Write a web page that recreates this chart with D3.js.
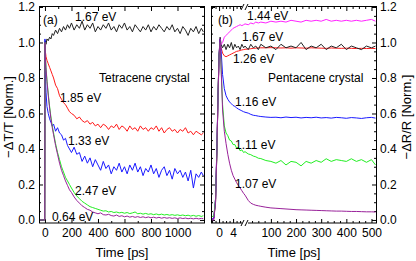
<!DOCTYPE HTML>
<html>
<head>
    <meta charset="utf-8">
    <title>Tetracene / Pentacene transients</title>
    <script src="https://d3js.org/d3.v7.min.js"></script>
    <style>
        body { margin: 0; background: #fff; }
        svg { display: block; font-family: "Liberation Sans", Arial, sans-serif; }
        .line { fill: none; stroke-width: 1; }
    </style>
</head>
<body>
<script type="text/javascript">
    // (a) tetracene, -dT/T, time in ps
    const tetraTime = [-45, -2, 0, 3, 8, 15, 25, 35, 45, 55, 65, 80, 95, 110, 125, 140, 155, 170, 185, 200,
        220, 240, 260, 280, 300, 320, 340, 360, 380, 400, 420, 440, 460, 480, 500, 520, 540, 560, 580, 600,
        620, 640, 660, 680, 700, 720, 740, 760, 780, 800, 820, 840, 860, 880, 900, 920, 940, 960, 980, 1000,
        1020, 1040, 1060, 1080, 1100, 1120, 1140, 1160, 1180, 1195];
    const tetra167 = [0, 0, 1.00, 1.01, 0.99, 1.02, 1.01, 1.03, 1.02, 1.05, 1.04, 1.07, 1.05, 1.08, 1.06, 1.09, 1.07, 1.10, 1.08, 1.11,
        1.07, 1.10, 1.08, 1.12, 1.07, 1.10, 1.08, 1.11, 1.06, 1.09, 1.07, 1.10, 1.08, 1.11, 1.07, 1.09, 1.06, 1.10, 1.08, 1.11,
        1.07, 1.09, 1.06, 1.10, 1.08, 1.06, 1.09, 1.07, 1.10, 1.06, 1.09, 1.07, 1.10, 1.08, 1.06, 1.09, 1.07, 1.10, 1.06, 1.08,
        1.05, 1.09, 1.07, 1.04, 1.08, 1.06, 1.09, 1.05, 1.08, 1.06];
    const tetra185 = [0, 0, 1.00, 0.95, 0.92, 0.90, 0.88, 0.86, 0.84, 0.82, 0.80, 0.76, 0.74, 0.70, 0.68, 0.66, 0.65, 0.63, 0.61, 0.60,
        0.59, 0.57, 0.58, 0.56, 0.55, 0.56, 0.54, 0.55, 0.53, 0.54, 0.52, 0.54, 0.53, 0.51, 0.53, 0.52, 0.54, 0.51, 0.53, 0.52,
        0.50, 0.53, 0.51, 0.52, 0.50, 0.53, 0.51, 0.52, 0.50, 0.52, 0.51, 0.53, 0.50, 0.52, 0.49, 0.51, 0.52, 0.50, 0.51, 0.49,
        0.51, 0.50, 0.52, 0.49, 0.50, 0.48, 0.50, 0.49, 0.48, 0.49];
    const tetra133 = [0, 0, 1.02, 0.82, 0.72, 0.64, 0.60, 0.57, 0.55, 0.53, 0.54, 0.50, 0.52, 0.49, 0.48, 0.45, 0.46, 0.42, 0.40, 0.38,
        0.41, 0.37, 0.38, 0.33, 0.36, 0.32, 0.35, 0.30, 0.34, 0.31, 0.28, 0.33, 0.29, 0.31, 0.26, 0.30, 0.28, 0.32, 0.27, 0.30,
        0.26, 0.31, 0.28, 0.32, 0.27, 0.30, 0.25, 0.29, 0.27, 0.31, 0.26, 0.29, 0.24, 0.28, 0.30, 0.25, 0.28, 0.23, 0.29, 0.26,
        0.28, 0.24, 0.27, 0.22, 0.28, 0.18, 0.26, 0.24, 0.27, 0.25];
    const tetra247 = [0, 0, 1.00, 0.93, 0.86, 0.79, 0.71, 0.64, 0.58, 0.53, 0.49, 0.43, 0.38, 0.34, 0.30, 0.27, 0.24, 0.22, 0.20, 0.18,
        0.155, 0.135, 0.12, 0.105, 0.095, 0.085, 0.075, 0.07, 0.065, 0.06, 0.055, 0.05, 0.052, 0.045, 0.048, 0.042, 0.045, 0.04, 0.043, 0.038,
        0.042, 0.036, 0.04, 0.045, 0.035, 0.038, 0.033, 0.037, 0.032, 0.035, 0.03, 0.034, 0.029, 0.033, 0.028, 0.031, 0.027, 0.03, 0.026, 0.029,
        0.025, 0.028, 0.024, 0.027, 0.022, 0.026, 0.021, 0.025, 0.02, 0.024];
    const tetra064 = [0, 0, 1.00, 0.92, 0.85, 0.78, 0.70, 0.63, 0.57, 0.52, 0.48, 0.42, 0.37, 0.32, 0.28, 0.25, 0.22, 0.195, 0.17, 0.155,
        0.13, 0.11, 0.095, 0.08, 0.07, 0.06, 0.055, 0.045, 0.04, 0.035, 0.04, 0.03, 0.028, 0.032, 0.025, 0.022, 0.028, 0.02, 0.024, 0.018,
        0.022, 0.016, 0.02, 0.015, 0.019, 0.014, 0.018, 0.013, 0.017, 0.012, 0.016, 0.011, 0.015, 0.01, 0.014, 0.01, 0.013, 0.009, 0.012, 0.008,
        0.012, 0.008, 0.011, 0.007, 0.01, 0.006, 0.01, 0.006, 0.009, 0.007];

    // (b) pentacene, -dR/R, time in ps (axis broken after 7.4 ps)
    const pentaTime = [-2.3, -1.5, -1.0, -0.6, -0.3, 0, 0.3, 0.6, 1.0, 1.5, 2.0, 2.5, 3.0, 3.5, 4.0, 4.5, 5.0, 5.5, 6.0, 6.5, 7.0, 7.4,
        10, 20, 30, 40, 50, 60, 80, 100, 120, 140, 160, 180, 200, 220, 240, 260, 280, 300, 320, 340, 360, 380, 400, 420, 440, 460, 480, 500, 516];
    const penta144 = [0, 0.01, 0.12, 0.42, 0.68, 0.90, 0.98, 0.99, 1.00, 1.03, 1.04, 1.05, 1.06, 1.07, 1.08, 1.085, 1.09, 1.095, 1.10, 1.095, 1.10, 1.105,
        1.10, 1.11, 1.105, 1.115, 1.11, 1.115, 1.11, 1.12, 1.115, 1.12, 1.115, 1.125, 1.12, 1.115, 1.125, 1.12, 1.125, 1.12, 1.13, 1.12, 1.125, 1.12, 1.125, 1.12, 1.125, 1.12, 1.125, 1.13, 1.12];
    const penta167 = [0, 0.01, 0.10, 0.40, 0.70, 0.93, 1.03, 0.99, 0.97, 0.99, 0.96, 0.99, 0.97, 1.00, 0.96, 0.99, 0.97, 0.98, 0.96, 0.99, 0.97, 0.98,
        0.96, 0.99, 0.97, 0.98, 0.96, 0.99, 0.97, 0.98, 0.96, 0.99, 0.97, 0.98, 0.97, 1.00, 0.96, 0.98, 0.97, 0.99, 0.96, 0.98, 0.97, 0.99, 0.96, 0.98, 0.97, 0.96, 0.98, 0.97, 0.98];
    const penta126 = [0, 0.01, 0.11, 0.41, 0.69, 0.92, 1.02, 0.97, 0.94, 0.925, 0.92, 0.925, 0.93, 0.935, 0.94, 0.945, 0.95, 0.952, 0.955, 0.958, 0.96, 0.962,
        0.963, 0.965, 0.967, 0.968, 0.97, 0.97, 0.97, 0.971, 0.97, 0.969, 0.97, 0.968, 0.97, 0.969, 0.968, 0.97, 0.969, 0.968, 0.967, 0.969, 0.968, 0.967, 0.968, 0.967, 0.966, 0.967, 0.966, 0.967, 0.966];
    const penta116 = [0, 0.01, 0.12, 0.43, 0.70, 0.93, 1.02, 0.95, 0.82, 0.74, 0.70, 0.68, 0.665, 0.655, 0.645, 0.64, 0.632, 0.625, 0.62, 0.615, 0.61, 0.607,
        0.602, 0.595, 0.59, 0.588, 0.585, 0.583, 0.58, 0.578, 0.579, 0.576, 0.58, 0.577, 0.579, 0.575, 0.578, 0.576, 0.579, 0.575, 0.577, 0.574, 0.578, 0.576, 0.573, 0.577, 0.575, 0.572, 0.576, 0.578, 0.574];
    const penta111 = [0.02, 0.02, 0.12, 0.40, 0.70, 0.92, 1.00, 0.85, 0.65, 0.53, 0.49, 0.475, 0.45, 0.445, 0.425, 0.425, 0.405, 0.41, 0.39, 0.395, 0.38, 0.385,
        0.372, 0.368, 0.36, 0.356, 0.348, 0.346, 0.335, 0.33, 0.32, 0.335, 0.31, 0.33, 0.325, 0.305, 0.33, 0.32, 0.335, 0.325, 0.345, 0.33, 0.34, 0.335, 0.33, 0.345, 0.33, 0.34, 0.325, 0.34, 0.31];
    const penta107 = [0, 0, 0.10, 0.40, 0.70, 0.92, 1.02, 0.85, 0.62, 0.50, 0.43, 0.37, 0.32, 0.28, 0.25, 0.23, 0.21, 0.195, 0.18, 0.165, 0.15, 0.14,
        0.11, 0.095, 0.088, 0.083, 0.08, 0.077, 0.072, 0.068, 0.066, 0.064, 0.062, 0.06, 0.058, 0.057, 0.056, 0.055, 0.054, 0.053, 0.052, 0.051, 0.05, 0.05, 0.049, 0.048, 0.048, 0.047, 0.046, 0.046, 0.045];

    // ticks
    const yTicks = [0, 0.2, 0.4, 0.6, 0.8, 1.0, 1.2];
    const yMinor = [0.05, 0.1, 0.15, 0.25, 0.3, 0.35, 0.45, 0.5, 0.55, 0.65, 0.7, 0.75, 0.85, 0.9, 0.95, 1.05, 1.1, 1.15];
    const tetraXTicks = [0, 200, 400, 600, 800, 1000];
    const tetraXMinor = [100, 300, 500, 700, 900, 1100];
    const pentaXTicks1 = [0, 4];
    const pentaXMinor1 = [-2, -1, 1, 2, 3, 5, 6, 7];
    const pentaXTicks2 = [100, 200, 300, 400, 500];
    const pentaXMinor2 = [25, 50, 75, 125, 150, 175, 225, 250, 275, 325, 350, 375, 425, 450, 475];

    const tetraSeries = [
        { label: "1.67 eV", values: tetra167, color: "#222222" },
        { label: "1.85 eV", values: tetra185, color: "#ff1a1a" },
        { label: "1.33 eV", values: tetra133, color: "#1a1aff" },
        { label: "2.47 eV", values: tetra247, color: "#22ee22" },
        { label: "0.64 eV", values: tetra064, color: "#99229a" }
    ];
    const pentaSeries = [
        { label: "1.26 eV", values: penta126, color: "#ff1a1a" },
        { label: "1.67 eV", values: penta167, color: "#222222" },
        { label: "1.44 eV", values: penta144, color: "#ff22ff" },
        { label: "1.16 eV", values: penta116, color: "#1a1aff" },
        { label: "1.11 eV", values: penta111, color: "#22ee22" },
        { label: "1.07 eV", values: penta107, color: "#99229a" }
    ];

    const svg = d3.select("body").append("svg")
        .attr("width", 416)
        .attr("height", 261);

    const y = d3.scaleLinear().domain([-0.017, 1.2]).range([223, 7]);
    const xL = d3.scaleLinear().domain([-45, 1200]).range([39, 204]);
    const xR1 = d3.scaleLinear().domain([-2.3, 7.4]).range([211, 245]);
    const xR2 = d3.scaleLinear().domain([-3, 518]).range([245, 376]);
    const xR = t => t <= 7.4 ? xR1(t) : xR2(t);

    const defs = svg.append("defs");
    defs.append("clipPath").attr("id", "clipL").append("rect")
        .attr("x", 39).attr("y", 7).attr("width", 165).attr("height", 216);
    defs.append("clipPath").attr("id", "clipR").append("rect")
        .attr("x", 211).attr("y", 7).attr("width", 165).attr("height", 216);

    // draw one set of ticks (no domain line), labels optional
    function tickSet(axisFn, scale, values, size, pos, withLabels, padding) {
        const axis = axisFn(scale).tickValues(values).tickSize(-size).tickPadding(padding || 4);
        if (!withLabels) axis.tickFormat("");
        else if (scale === y) axis.tickFormat(d3.format(".1f"));
        else axis.tickFormat(d3.format("d"));
        const g = svg.append("g").attr("transform", pos).call(axis);
        g.select(".domain").remove();
        g.attr("font-size", 12).attr("font-family", null);
        g.selectAll("text").attr("fill", "#000");
        g.selectAll("line").attr("stroke", "#000");
        return g;
    }

    // panel (a) axes
    tickSet(d3.axisLeft, y, yTicks, 4, "translate(39,0)", true);
    tickSet(d3.axisLeft, y, yMinor, 2, "translate(39,0)", false);
    tickSet(d3.axisRight, y, yTicks, 4, "translate(204,0)", false);
    tickSet(d3.axisRight, y, yMinor, 2, "translate(204,0)", false);
    tickSet(d3.axisBottom, xL, tetraXTicks, 4, "translate(0,223)", true, 5);
    tickSet(d3.axisBottom, xL, tetraXMinor, 2, "translate(0,223)", false);
    tickSet(d3.axisTop, xL, tetraXTicks, 4, "translate(0,7)", false);
    tickSet(d3.axisTop, xL, tetraXMinor, 2, "translate(0,7)", false);

    // panel (b) axes
    tickSet(d3.axisLeft, y, yTicks, 4, "translate(211,0)", false);
    tickSet(d3.axisLeft, y, yMinor, 2, "translate(211,0)", false);
    tickSet(d3.axisRight, y, yTicks, 4, "translate(376,0)", true);
    tickSet(d3.axisRight, y, yMinor, 2, "translate(376,0)", false);
    tickSet(d3.axisBottom, xR1, pentaXTicks1, 4, "translate(0,223)", true, 5);
    tickSet(d3.axisBottom, xR1, pentaXMinor1, 2, "translate(0,223)", false);
    tickSet(d3.axisBottom, xR2, pentaXTicks2, 4, "translate(0,223)", true, 5);
    tickSet(d3.axisBottom, xR2, pentaXMinor2, 2, "translate(0,223)", false);
    tickSet(d3.axisTop, xR1, pentaXTicks1, 4, "translate(0,7)", false);
    tickSet(d3.axisTop, xR1, pentaXMinor1, 2, "translate(0,7)", false);
    tickSet(d3.axisTop, xR2, pentaXTicks2, 4, "translate(0,7)", false);
    tickSet(d3.axisTop, xR2, pentaXMinor2, 2, "translate(0,7)", false);

    // curves
    const lineL = d3.line().x((d, i) => xL(tetraTime[i])).y(d => y(d));
    const lineR = d3.line().x((d, i) => xR(pentaTime[i])).y(d => y(d));

    svg.append("g").attr("clip-path", "url(#clipL)")
        .selectAll("path").data(tetraSeries).join("path")
        .attr("class", "line")
        .attr("stroke", d => d.color)
        .attr("d", d => lineL(d.values));

    svg.append("g").attr("clip-path", "url(#clipR)")
        .selectAll("path").data(pentaSeries).join("path")
        .attr("class", "line")
        .attr("stroke", d => d.color)
        .attr("d", d => lineR(d.values));

    // frames
    svg.append("rect").attr("x", 39.5).attr("y", 6.5).attr("width", 165).attr("height", 216.5)
        .attr("fill", "none").attr("stroke", "#000");
    svg.append("rect").attr("x", 211.5).attr("y", 6.5).attr("width", 165).attr("height", 216.5)
        .attr("fill", "none").attr("stroke", "#000");

    // axis break marks
    [223, 7].forEach(yy => {
        const b = svg.append("g").attr("transform", `translate(${xR1(7.4)},${yy})`);
        b.append("rect").attr("x", -3).attr("y", -2).attr("width", 6).attr("height", 4).attr("fill", "#fff");
        b.append("line").attr("x1", -4).attr("y1", 3).attr("x2", -1).attr("y2", -3).attr("stroke", "#000");
        b.append("line").attr("x1", 0).attr("y1", 3).attr("x2", 3).attr("y2", -3).attr("stroke", "#000");
    });

    // annotations
    const notes = [
        ["(a)", 43, 24], ["1.67 eV", 75, 21], ["Tetracene crystal", 99, 82], ["1.85 eV", 60, 102],
        ["1.33 eV", 68, 145], ["2.47 eV", 75, 195], ["0.64 eV", 52, 221],
        ["(b)", 218, 24], ["1.44 eV", 247, 20], ["1.67 eV", 242, 41], ["1.26 eV", 233, 63],
        ["Pentacene crystal", 268, 82], ["1.16 eV", 235, 106], ["1.11 eV", 235, 149], ["1.07 eV", 235, 188]
    ];
    svg.append("g").selectAll("text").data(notes).join("text")
        .attr("x", d => d[1]).attr("y", d => d[2])
        .attr("font-size", 12)
        .text(d => d[0]);

    // axis titles
    svg.append("text").attr("x", 122).attr("y", 257).attr("text-anchor", "middle")
        .attr("font-size", 13).text("Time [ps]");
    svg.append("text").attr("x", 294).attr("y", 257).attr("text-anchor", "middle")
        .attr("font-size", 13).text("Time [ps]");
    svg.append("text").attr("transform", "translate(13,117) rotate(-90)").attr("text-anchor", "middle")
        .attr("font-size", 13).text("\u2212\u0394T/T [Norm.]");
    svg.append("text").attr("transform", "translate(411,117) rotate(-90)").attr("text-anchor", "middle")
        .attr("font-size", 13).text("\u2212\u0394R/R [Norm.]");
</script>
</body>
</html>
